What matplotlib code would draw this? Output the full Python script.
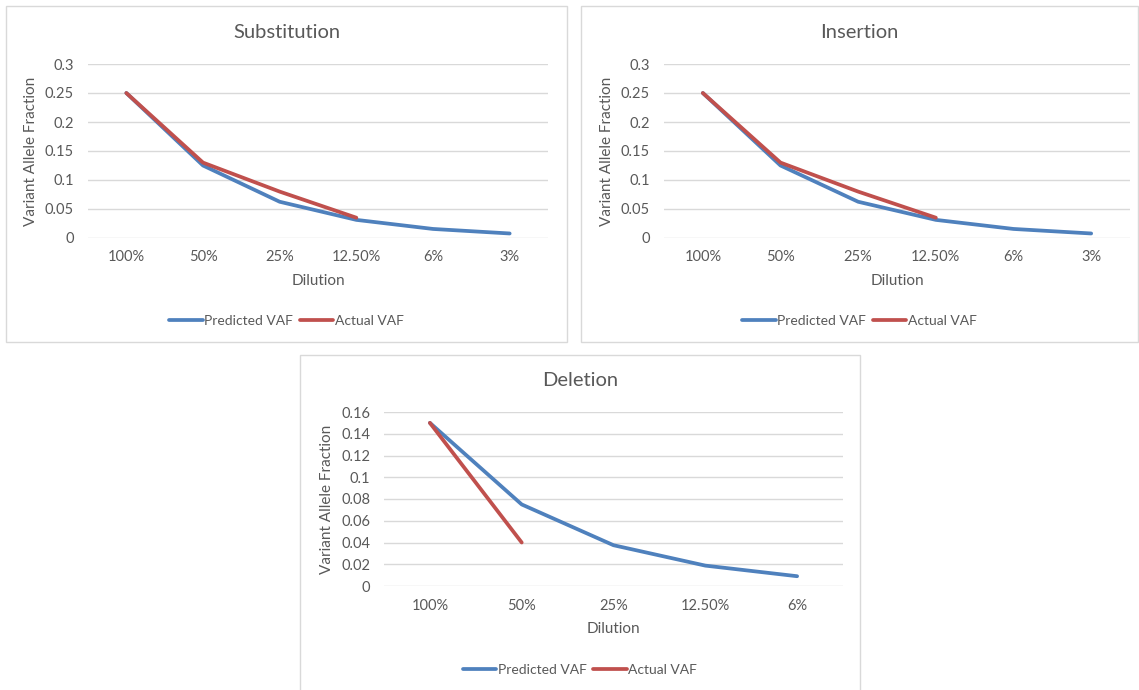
import matplotlib
matplotlib.use('Agg')

import matplotlib.pyplot as plt
from matplotlib.patches import Rectangle
import numpy as np

plt.rcParams['font.family'] = ['Lato', 'DejaVu Sans']

# data
titles = ["Substitution", "Insertion", "Deletion"]
dilutions_6 = ["100%", "50%", "25%", "12.50%", "6%", "3%"]
dilutions_5 = ["100%", "50%", "25%", "12.50%", "6%"]

sub_predicted = [0.25, 0.125, 0.0625, 0.03125, 0.0156, 0.0078]
sub_actual = [0.25, 0.13, 0.08, 0.035]
ins_predicted = [0.25, 0.125, 0.0625, 0.03125, 0.0156, 0.0078]
ins_actual = [0.25, 0.13, 0.08, 0.035]
del_predicted = [0.15, 0.075, 0.0375, 0.01875, 0.009]
del_actual = [0.15, 0.04]

W, H = 1139, 690
BLUE = '#4F81BD'
RED = '#C0504D'
TXT = '#595959'
GRID = '#D9D9D9'


def frac(x0, y0, x1, y1):
    return [x0 / W, 1 - y1 / H, (x1 - x0) / W, (y1 - y0) / H]


fig = plt.figure(figsize=(W / 100, H / 100), dpi=100)


def chart(panel, plot, title, cats, pred, act, ymax, ystep):
    px0, py0, px1, py1 = panel
    fig.patches.append(Rectangle((px0 / W, 1 - py1 / H), (px1 - px0) / W, (py1 - py0) / H,
                                 transform=fig.transFigure, fill=False,
                                 edgecolor=GRID, linewidth=1))
    ax = fig.add_axes(frac(*plot))
    x = np.arange(len(cats))
    ax.plot(x[:len(pred)], pred, color=BLUE, lw=2.7, label="Predicted VAF",
            solid_capstyle='round', solid_joinstyle='round')
    ax.plot(x[:len(act)], act, color=RED, lw=2.7, label="Actual VAF",
            solid_capstyle='round', solid_joinstyle='round')
    ax.set_xlim(-0.5, len(cats) - 0.5)
    ax.set_ylim(0, ymax)
    yt = np.round(np.arange(0, ymax + ystep / 2, ystep), 4)
    ax.set_yticks(yt)
    ax.set_yticklabels(["0" if v == 0 else f"{v:g}" for v in yt])
    ax.set_xticks(x)
    ax.set_xticklabels(cats)
    ax.tick_params(length=0, colors=TXT, labelsize=10.5)
    ax.tick_params(axis='y', pad=10)
    ax.tick_params(axis='x', pad=9)
    ax.grid(axis='y', color=GRID, lw=1)
    ax.set_axisbelow(True)
    for s in ax.spines.values():
        s.set_visible(False)
    ax.set_xlabel("Dilution", color=TXT, fontsize=11, labelpad=7)
    ax.set_ylabel("Variant Allele Fraction", color=TXT, fontsize=11, labelpad=5)
    cx = (px0 + px1) / 2 / W
    fig.text(cx, 1 - (py0 + 26) / H, title, ha='center', va='center',
             fontsize=14.5, color=TXT)
    ax.legend(loc='center', bbox_to_anchor=(cx, 1 - (py0 + 315) / H),
              bbox_transform=fig.transFigure, ncol=2, frameon=False,
              fontsize=10, handlelength=2.4, handletextpad=0.1,
              columnspacing=0.5, labelcolor=TXT)
    return ax


chart((6, 6, 567, 342), (88, 64, 548, 238), titles[0], dilutions_6,
      sub_predicted, sub_actual, 0.3, 0.05)
chart((581, 6, 1138, 342), (664, 64, 1130, 238), titles[1], dilutions_6,
      ins_predicted, ins_actual, 0.3, 0.05)
chart((300, 355, 860, 693), (384, 412, 843, 586), titles[2], dilutions_5,
      del_predicted, del_actual, 0.16, 0.02)

fig.savefig("out.png", dpi=100, facecolor='white')
